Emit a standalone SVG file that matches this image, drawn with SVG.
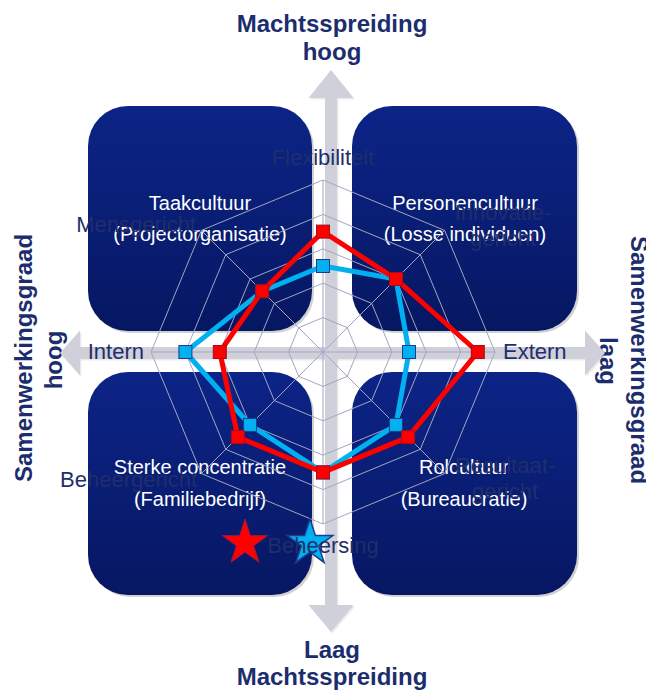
<svg xmlns="http://www.w3.org/2000/svg" width="646" height="690" viewBox="0 0 646 690">
<defs>
<linearGradient id="boxg" x1="0" y1="0" x2="0" y2="1">
<stop offset="0" stop-color="#0c2487"/>
<stop offset="1" stop-color="#061762"/>
</linearGradient>
<path id="star" d="M0,-24 L5.39,-7.42 L22.83,-7.42 L8.72,2.83 L14.11,19.42 L0,9.17 L-14.11,19.42 L-8.72,2.83 L-22.83,-7.42 L-5.39,-7.42 Z"/>
<rect id="mk" x="-6.5" y="-6.5" width="13" height="13"/>
</defs>
<style>
.title{font-family:"Liberation Sans",Arial,sans-serif;font-weight:bold;font-size:24px;fill:#1c2d6e;text-anchor:middle}
.box{fill:url(#boxg)}
.shadow{fill:#000000;opacity:0.18}
.bt{font-family:"Liberation Sans",Arial,sans-serif;font-size:20px;fill:#ffffff;text-anchor:middle}
.lab{font-family:"Liberation Sans",Arial,sans-serif;font-size:22px;fill:#1f2e6c}
.grid{fill:none;stroke:#a3a6c2;stroke-width:1}
.arrow{fill:#cfd0da}
.ashadow{fill:#000000;opacity:0.08}
.red{fill:none;stroke:#ff0000;stroke-width:5;stroke-linejoin:round}
.blue{fill:none;stroke:#00b0f0;stroke-width:5;stroke-linejoin:round}
.rm{fill:#ff0000;stroke:#a01020;stroke-width:1}
.bm{fill:#00b0f0;stroke:#1f3c8c;stroke-width:1}
</style>

<g id="titles">
<text class="title" x="332" y="32">Machtsspreiding</text>
<text class="title" x="332" y="60">hoog</text>
<text class="title" x="332" y="658">Laag</text>
<text class="title" x="332" y="685">Machtsspreiding</text>
<text class="title" transform="translate(32,358) rotate(-90)">Samenwerkingsgraad</text>
<text class="title" transform="translate(62,360) rotate(-90)">hoog</text>
<text class="title" transform="translate(631,360) rotate(90)">Samenwerkingsgraad</text>
<text class="title" transform="translate(600,361) rotate(90)">laag</text>
</g>

<g id="connectors">
<polygon class="ashadow" transform="translate(1.5,1.5)" points="331,70 353.5,98 337,98 337,605 353.5,605 331,632 308.5,605 325,605 325,98 308.5,98"/>
<polygon class="ashadow" transform="translate(1.5,1.5)" points="60,353 80,330.5 80,347 585,347 585,330.5 605,353 585,375.5 585,359 80,359 80,375.5"/>
<polygon class="arrow" points="331,70 353.5,98 337,98 337,605 353.5,605 331,632 308.5,605 325,605 325,98 308.5,98"/>
<polygon class="arrow" points="60,353 80,330.5 80,347 585,347 585,330.5 605,353 585,375.5 585,359 80,359 80,375.5"/>
</g>

<g id="taakcultuur">
<rect class="shadow" x="90" y="108" width="224" height="225" rx="40"/>
<rect class="box" x="88" y="106" width="224" height="225" rx="40"/>
<text class="bt" x="200" y="210">Taakcultuur</text>
<text class="bt" x="200" y="241">(Projectorganisatie)</text>
</g>
<g id="personencultuur">
<rect class="shadow" x="354" y="108" width="225" height="225" rx="40"/>
<rect class="box" x="352" y="106" width="225" height="225" rx="40"/>
<text class="bt" x="465" y="210">Personencultuur</text>
<text class="bt" x="465" y="241">(Losse individuen)</text>
</g>
<g id="sterke-concentratie">
<rect class="shadow" x="90" y="374" width="224" height="223" rx="40"/>
<rect class="box" x="88" y="372" width="224" height="223" rx="40"/>
<text class="bt" x="200" y="474">Sterke concentratie</text>
<text class="bt" x="200" y="506">(Familiebedrijf)</text>
</g>
<g id="rolcultuur">
<rect class="shadow" x="354" y="374" width="225" height="223" rx="40"/>
<rect class="box" x="352" y="372" width="225" height="223" rx="40"/>
<text class="bt" x="464" y="474">Rolcultuur</text>
<text class="bt" x="464" y="506">(Bureaucratie)</text>
</g>

<g id="radar-grid">
<polygon class="grid" points="323,317.6 347.32,327.68 357.4,352 347.32,376.32 323,386.4 298.68,376.32 288.6,352 298.68,327.68"/>
<polygon class="grid" points="323,283.2 371.65,303.35 391.8,352 371.65,400.65 323,420.8 274.35,400.65 254.2,352 274.35,303.35"/>
<polygon class="grid" points="323,248.8 395.97,279.03 426.2,352 395.97,424.97 323,455.2 250.03,424.97 219.8,352 250.03,279.03"/>
<polygon class="grid" points="323,214.4 420.3,254.7 460.6,352 420.3,449.3 323,489.6 225.7,449.3 185.4,352 225.7,254.7"/>
<polygon class="grid" points="323,180 444.62,230.38 495,352 444.62,473.62 323,524 201.38,473.62 151,352 201.38,230.38"/>
<path class="grid" d="M323,352 L323,180 M323,352 L444.62,230.38 M323,352 L495,352 M323,352 L444.62,473.62 M323,352 L323,524 M323,352 L201.38,473.62 M323,352 L151,352 M323,352 L201.38,230.38"/>
</g>

<g id="series-blue">
<polygon class="blue" points="323,266 395.97,279.03 409,352 395.97,424.97 323,472.4 250.03,424.97 185.4,352 262.19,291.19"/>
<use href="#mk" class="bm" x="323" y="266"/>
<use href="#mk" class="bm" x="395.97" y="279.03"/>
<use href="#mk" class="bm" x="409" y="352"/>
<use href="#mk" class="bm" x="395.97" y="424.97"/>
<use href="#mk" class="bm" x="323" y="472.4"/>
<use href="#mk" class="bm" x="250.03" y="424.97"/>
<use href="#mk" class="bm" x="185.4" y="352"/>
<use href="#mk" class="bm" x="262.19" y="291.19"/>
</g>
<g id="series-red">
<polygon class="red" points="323,231.6 395.97,279.03 477.8,352 408.14,437.14 323,472.4 237.86,437.14 219.8,352 262.19,291.19"/>
<use href="#mk" class="rm" x="323" y="231.6"/>
<use href="#mk" class="rm" x="395.97" y="279.03"/>
<use href="#mk" class="rm" x="477.8" y="352"/>
<use href="#mk" class="rm" x="408.14" y="437.14"/>
<use href="#mk" class="rm" x="323" y="472.4"/>
<use href="#mk" class="rm" x="237.86" y="437.14"/>
<use href="#mk" class="rm" x="219.8" y="352"/>
<use href="#mk" class="rm" x="262.19" y="291.19"/>
</g>

<g id="stars">
<use href="#star" x="245" y="543" fill="#ff0000" stroke="#8a1a50" stroke-width="1"/>
<use href="#star" x="310" y="543" fill="#00b0f0" stroke="#1f3c8c" stroke-width="1.5"/>
</g>

<g id="radar-labels">
<text class="lab" x="323" y="165" text-anchor="middle">Flexibiliteit</text>
<text class="lab" x="503" y="220" text-anchor="middle">Innovatie-</text>
<text class="lab" x="503" y="246" text-anchor="middle">gericht</text>
<text class="lab" x="503" y="359">Extern</text>
<text class="lab" x="505" y="473" text-anchor="middle">Resultaat-</text>
<text class="lab" x="505" y="499" text-anchor="middle">gericht</text>
<text class="lab" x="323" y="553" text-anchor="middle">Beheersing</text>
<text class="lab" x="197" y="487" text-anchor="end">Beheergericht</text>
<text class="lab" x="144" y="359" text-anchor="end">Intern</text>
<text class="lab" x="196" y="232" text-anchor="end">Mensgericht</text>
</g>
</svg>
